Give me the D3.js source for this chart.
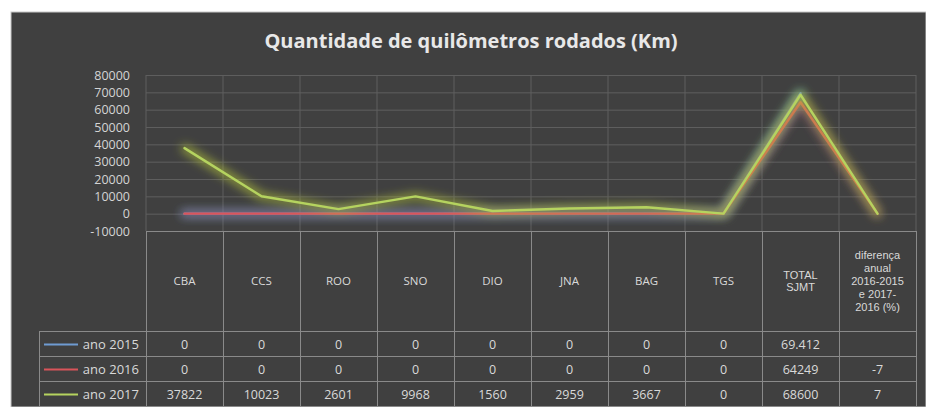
<!DOCTYPE html>
<html>
<head>
<meta charset="utf-8">
<script src="https://cdn.jsdelivr.net/npm/d3@7"></script>
<style>
  body { margin: 0; background: #ffffff; }
  svg { display: block; }
</style>
</head>
<body>
<script>
//-----------------Data----------------

const categories = ["CBA", "CCS", "ROO", "SNO", "DIO", "JNA", "BAG", "TGS", "TOTAL SJMT", "diferença anual 2016-2015 e 2017-2016 (%)"];
const headerLines = [["CBA"], ["CCS"], ["ROO"], ["SNO"], ["DIO"], ["JNA"], ["BAG"], ["TGS"], ["TOTAL", "SJMT"], ["diferença", "anual", "2016-2015", "e 2017-", "2016 (%)"]];
const seriesNames = ["ano 2015", "ano 2016", "ano 2017"];
const values2015 = [0, 0, 0, 0, 0, 0, 0, 0, 69412, null];
const values2016 = [0, 0, 0, 0, 0, 0, 0, 0, 64249, -7];
const values2017 = [37822, 10023, 2601, 9968, 1560, 2959, 3667, 0, 68600, 7];
const labels2015 = ["0", "0", "0", "0", "0", "0", "0", "0", "69.412", ""];
const yTicks = [-10000, 0, 10000, 20000, 30000, 40000, 50000, 60000, 70000, 80000];

//-----------------Main svg----------------

const width = 926;
const height = 407;
const plotLeft = 146;
const plotRight = 916;
const plotTop = 75;
const plotBottom = 231;
const headerBottom = 331;
const rowHeight = 25;
const legendLeft = 39;

const colors = ["#6f9bd2", "#d9545a", "#b5d35f"];
const glowColors = ["#5fc0d8", "#94507e", "#b4c43a"];

const svg = d3.select("body").append("svg").attr("width", width).attr("height", height);

svg.append("rect")
  .attr("x", 11).attr("y", 12)
  .attr("width", width - 11).attr("height", height - 12)
  .attr("fill", "#404040")
  .attr("stroke", "#c8c8c8")
  .attr("stroke-width", 1);

svg.append("text")
  .text("Quantidade de quilômetros rodados (Km)")
  .attr("x", 471)
  .attr("y", 48)
  .attr("text-anchor", "middle")
  .style("font-family", "'Open Sans', sans-serif")
  .style("font-weight", 700)
  .style("font-size", "20px")
  .style("fill", "#e8e8e8");

//-----------------Scales----------------

const xScale = d3.scaleBand().domain(categories).range([plotLeft, plotRight]);
const yScale = d3.scaleLinear().domain([-10000, 80000]).range([plotBottom, plotTop]);
const xMid = (c) => xScale(c) + xScale.bandwidth() / 2;

//-----------------Grid & axis----------------

const yAxis = d3.axisLeft(yScale).tickValues(yTicks).tickSize(-(plotRight - plotLeft)).tickFormat((d) => d);
const yAxisG = svg.append("g").attr("transform", "translate(" + plotLeft + ",0)").call(yAxis);
yAxisG.select(".domain").remove();
yAxisG.selectAll(".tick line").attr("stroke", "#5e5e5e");
yAxisG.selectAll(".tick text")
  .attr("x", -16)
  .style("font-family", "'Open Sans', sans-serif")
  .style("font-size", "12.5px")
  .style("fill", "#d4d4d4");

svg.append("g")
  .selectAll("line")
  .data(categories.concat([null]))
  .enter()
  .append("line")
  .attr("x1", (d) => (d === null ? plotRight : xScale(d)))
  .attr("x2", (d) => (d === null ? plotRight : xScale(d)))
  .attr("y1", plotTop)
  .attr("y2", plotBottom)
  .attr("stroke", "#5e5e5e");

//-----------------Glow filters----------------

const defs = svg.append("defs");
glowColors.forEach((c, i) => {
  const f = defs.append("filter").attr("id", "glow" + i)
    .attr("x", "-20%").attr("y", "-50%").attr("width", "140%").attr("height", "200%");
  f.append("feMorphology").attr("in", "SourceAlpha").attr("operator", "dilate").attr("radius", 2).attr("result", "thick");
  f.append("feGaussianBlur").attr("in", "thick").attr("stdDeviation", 5).attr("result", "blur");
  f.append("feFlood").attr("flood-color", c).attr("flood-opacity", 0.7);
  f.append("feComposite").attr("in2", "blur").attr("operator", "in").attr("result", "glow");
  const m = f.append("feMerge");
  m.append("feMergeNode").attr("in", "glow");
  m.append("feMergeNode").attr("in", "SourceGraphic");
});

//-----------------Lines----------------

const allSeries = [values2015, values2016, values2017];
const line = d3.line()
  .defined((d) => d.v !== null)
  .x((d) => xMid(d.c))
  .y((d) => yScale(d.v));

allSeries.forEach((vals, i) => {
  svg.append("path")
    .datum(vals.map((v, j) => ({ c: categories[j], v: v })))
    .attr("d", line)
    .attr("fill", "none")
    .attr("stroke", colors[i])
    .attr("stroke-width", 2.4)
    .attr("stroke-linejoin", "round")
    .attr("stroke-linecap", "round")
    .attr("filter", "url(#glow" + i + ")");
});

//-----------------Data table----------------

const table = svg.append("g");
const borderColor = "#8a8a8a";
const textColor = "#d9d9d9";
const tableFont = "'Open Sans', sans-serif";

// header cells
categories.forEach((c, i) => {
  table.append("rect")
    .attr("x", xScale(c) + 0.5).attr("y", plotBottom + 0.5)
    .attr("width", xScale.bandwidth()).attr("height", headerBottom - plotBottom)
    .attr("fill", "none").attr("stroke", borderColor);
  const lines = headerLines[i];
  const lh = 12.8;
  const multi = lines.length > 1;
  const y0 = (plotBottom + headerBottom) / 2 - ((lines.length - 1) * lh) / 2 + 4;
  lines.forEach((t, k) => {
    table.append("text")
      .text(t)
      .attr("x", xMid(c))
      .attr("y", y0 + k * lh)
      .attr("text-anchor", "middle")
      .style("font-family", multi ? "'Liberation Sans', sans-serif" : tableFont)
      .style("font-size", multi ? "11px" : "11.5px")
      .style("fill", textColor);
  });
});

// data rows
const cellTexts = [labels2015, values2016.map(String), values2017.map(String)];
seriesNames.forEach((name, r) => {
  const y = headerBottom + r * rowHeight;
  table.append("rect")
    .attr("x", legendLeft + 0.5).attr("y", y + 0.5)
    .attr("width", plotLeft - legendLeft).attr("height", rowHeight)
    .attr("fill", "none").attr("stroke", borderColor);
  table.append("line")
    .attr("x1", legendLeft + 5).attr("x2", legendLeft + 39)
    .attr("y1", y + rowHeight / 2 + 1).attr("y2", y + rowHeight / 2 + 1)
    .attr("stroke", colors[r]).attr("stroke-width", 2.2);
  table.append("text")
    .text(name)
    .attr("x", plotLeft - 7)
    .attr("y", y + rowHeight / 2 + 5)
    .attr("text-anchor", "end")
    .style("font-family", tableFont)
    .style("font-size", "13px")
    .style("fill", textColor);

  categories.forEach((c, i) => {
    table.append("rect")
      .attr("x", xScale(c) + 0.5).attr("y", y + 0.5)
      .attr("width", xScale.bandwidth()).attr("height", rowHeight)
      .attr("fill", "none").attr("stroke", borderColor);
    table.append("text")
      .text(cellTexts[r][i])
      .attr("x", xMid(c))
      .attr("y", y + rowHeight / 2 + 5)
      .attr("text-anchor", "middle")
      .style("font-family", tableFont)
      .style("font-size", "12.5px")
      .style("fill", textColor);
  });
});
</script>
</body>
</html>
